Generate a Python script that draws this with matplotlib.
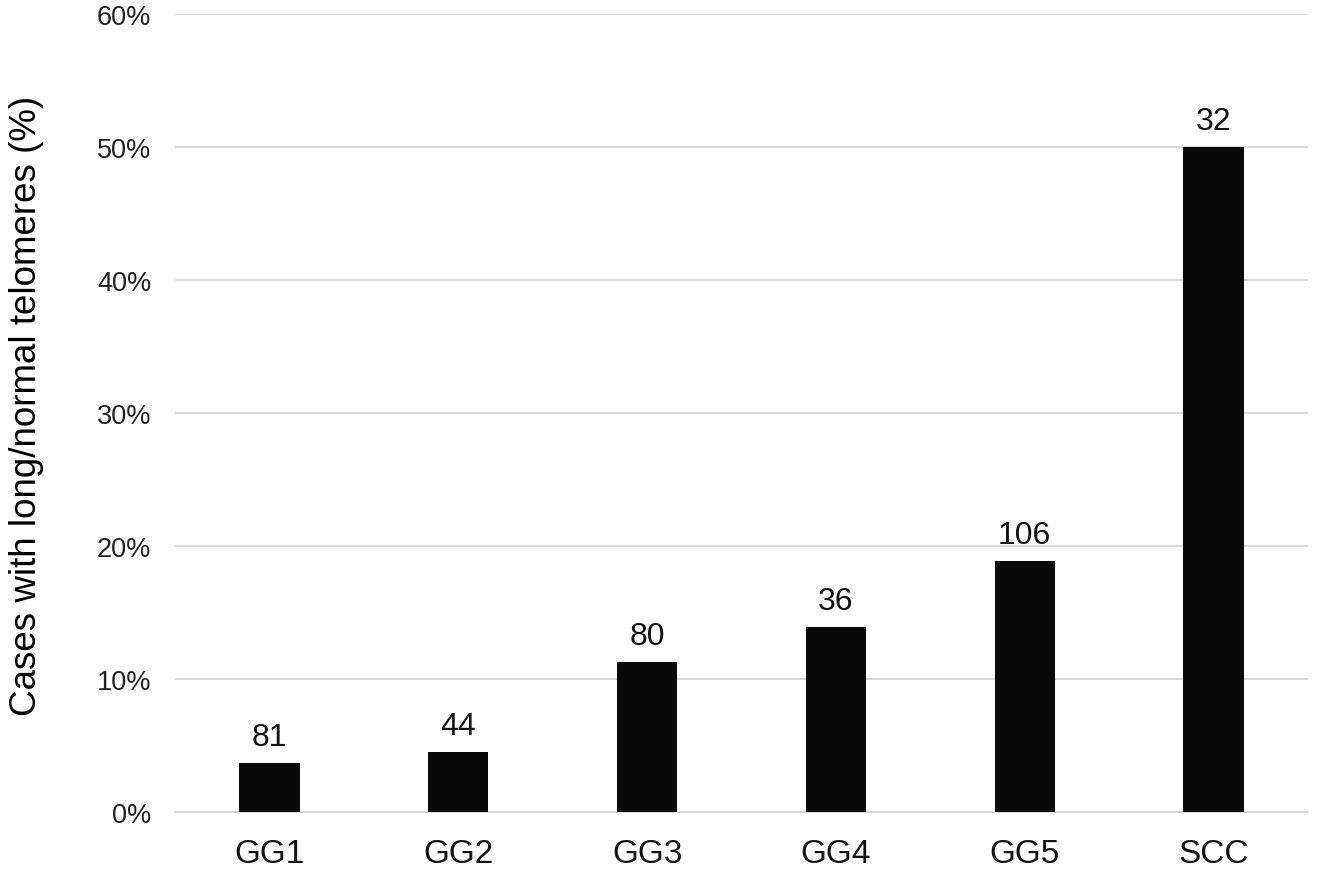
import matplotlib
matplotlib.use("Agg")
import matplotlib.pyplot as plt
from matplotlib.ticker import PercentFormatter

categories = ["GG1", "GG2", "GG3", "GG4", "GG5", "SCC"]
pct_long = [3.7, 4.5, 11.25, 13.9, 18.9, 50.0]
n_cases = [81, 44, 80, 36, 106, 32]

plt.rcParams["font.family"] = ["Liberation Sans", "DejaVu Sans"]

fig = plt.figure(figsize=(13.17, 8.79), dpi=100)
ax = fig.add_axes([175 / 1317, 66 / 879, 1133 / 1317, 798 / 879])

x = range(len(categories))
bars = ax.bar(x, pct_long, width=0.32, color="#0a0a0a", zorder=3)
for b, n in zip(bars, n_cases):
    ax.annotate(str(n), (b.get_x() + b.get_width() / 2, b.get_height()),
                xytext=(0, 8), textcoords="offset points",
                ha="center", va="bottom", fontsize=23, color="#111111")

ax.set_xlim(-0.5, len(categories) - 0.5)
ax.set_ylim(0, 60)
ax.set_yticks(range(0, 61, 10))
ax.yaxis.set_major_formatter(PercentFormatter(decimals=0))
ax.set_xticks(list(x))
ax.set_xticklabels(categories)
ax.grid(axis="y", color="#d0d0d0", lw=1.1, zorder=0)
for s in ["top", "right", "left"]:
    ax.spines[s].set_visible(False)
ax.spines["bottom"].set_color("#d0d0d0")
ax.spines["bottom"].set_linewidth(1.1)
ax.tick_params(axis="y", length=0, pad=17, labelsize=19.5, labelcolor="#222222")
ax.tick_params(axis="x", length=0, pad=19, labelsize=24, labelcolor="#111111")
ax.set_ylabel("Cases with long/normal telomeres (%)", fontsize=26.5, labelpad=38)
ax.yaxis.label.set_y(0.51)

fig.savefig("out.png", dpi=100)
